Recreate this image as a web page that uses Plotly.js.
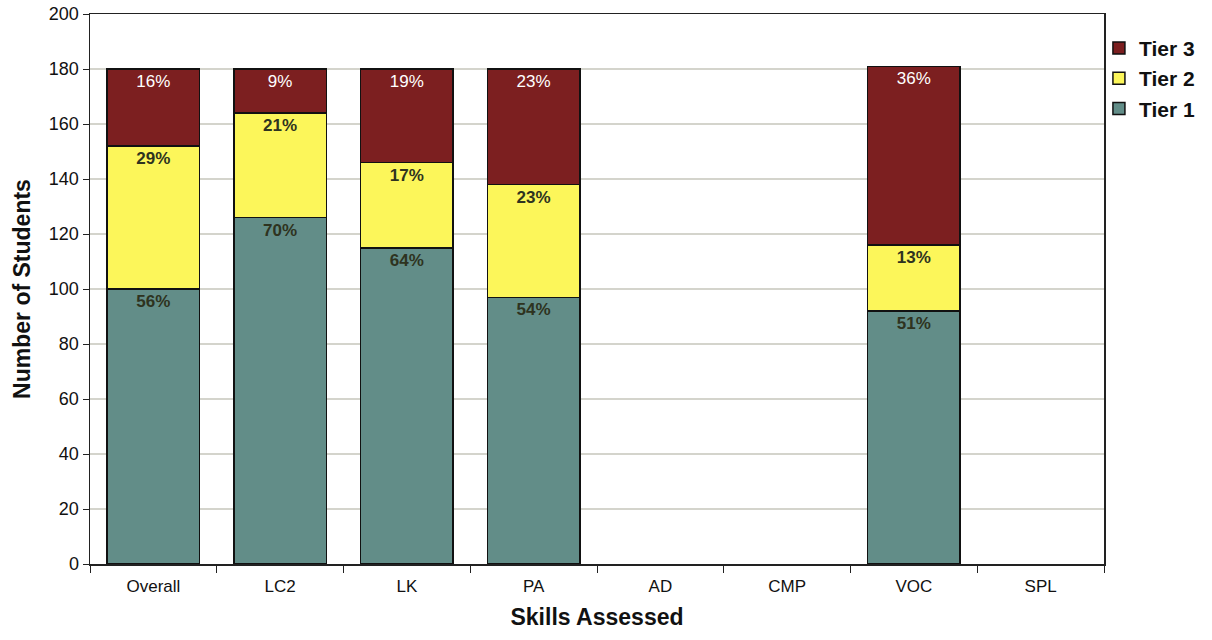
<!DOCTYPE html>
<html>
<head>
<meta charset="utf-8">
<script src="https://cdn.plot.ly/plotly-3.0.1.min.js"></script>
<style>html,body{margin:0;padding:0;background:#fff;}#chart{width:1212px;height:640px;}</style>
</head>
<body>
<div id="chart"></div>
<script>
const categories = ["Overall", "LC2", "LK", "PA", "AD", "CMP", "VOC", "SPL"];
const tier1 = [100, 126, 115, 97, null, null, 92, null];
const tier2 = [52, 38, 31, 41, null, null, 24, null];
const tier3 = [28, 16, 34, 42, null, null, 65, null];
const tier1Labels = ["56%", "70%", "64%", "54%", "", "", "51%", ""];
const tier2Labels = ["29%", "21%", "17%", "23%", "", "", "13%", ""];
const tier3Labels = ["16%", "9%", "19%", "23%", "", "", "36%", ""];

const boldFont = {family: "Liberation Sans, Arial, sans-serif", size: 17, color: "#2e3320", weight: "bold"};
const lineStyle = {color: "#111", width: 1.5};

const traces = [
  {type: "bar", name: "Tier 1", x: categories, y: tier1, text: tier1Labels,
   marker: {color: "#628d88", line: lineStyle}, textposition: "inside", insidetextanchor: "end",
   textfont: boldFont, textangle: 0, hoverinfo: "x+y"},
  {type: "bar", name: "Tier 2", x: categories, y: tier2, text: tier2Labels,
   marker: {color: "#fcf65a", line: lineStyle}, textposition: "inside", insidetextanchor: "end",
   textfont: boldFont, textangle: 0, hoverinfo: "x+y"},
  {type: "bar", name: "Tier 3", x: categories, y: tier3, text: tier3Labels,
   marker: {color: "#7c1f20", line: lineStyle}, textposition: "inside", insidetextanchor: "end",
   textfont: {family: "Liberation Sans, Arial, sans-serif", size: 17, color: "#ffffff"}, textangle: 0, hoverinfo: "x+y"}
];

const layout = {
  width: 1212, height: 640,
  margin: {l: 90, r: 100, t: 14, b: 76},
  barmode: "stack",
  bargap: 0.27,
  paper_bgcolor: "#fff", plot_bgcolor: "#fff",
  font: {family: "Liberation Sans, Arial, sans-serif", color: "#111"},
  showlegend: true,
  legend: {x: 0.995, xanchor: "left", y: 0.975, yanchor: "top", traceorder: "reversed",
           font: {size: 21, color: "#111", weight: "bold"}, itemwidth: 30, tracegroupgap: 0, bgcolor: "rgba(0,0,0,0)"},
  xaxis: {
    type: "category", categoryorder: "array", categoryarray: categories,
    showline: true, linecolor: "#222", linewidth: 1.5, mirror: true,
    ticks: "outside", tickson: "boundaries", ticklen: 7, tickcolor: "#222",
    ticklabelstandoff: 6,
    tickfont: {size: 17, color: "#111"}, showgrid: false,
    title: {text: "Skills Assessed", font: {size: 23, weight: "bold", color: "#111"}, standoff: 14}
  },
  yaxis: {
    range: [0, 200], dtick: 20, tick0: 0,
    showline: true, linecolor: "#222", linewidth: 1.5, mirror: true,
    ticks: "outside", ticklen: 6, tickcolor: "#222",
    tickfont: {size: 18, color: "#111"},
    showgrid: true, gridcolor: "#d4d4cc", gridwidth: 1.2, zeroline: false,
    title: {text: "Number of Students", font: {size: 23, weight: "bold", color: "#111"}, standoff: 12}
  }
};

Plotly.newPlot("chart", traces, layout, {displayModeBar: false, staticPlot: true});
</script>
</body>
</html>
